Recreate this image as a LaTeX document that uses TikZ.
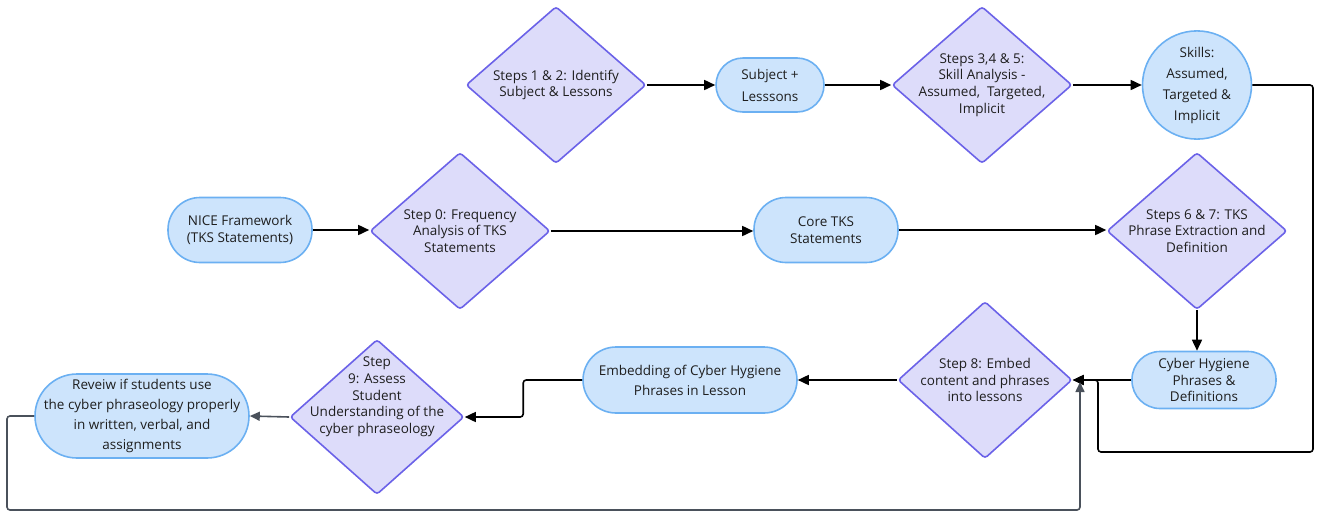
\documentclass[tikz,border=0pt]{standalone}
\usepackage{fontspec}
\setmainfont{Open Sans}
\usetikzlibrary{shapes.geometric,arrows.meta,calc}
\definecolor{dfill}{HTML}{DDDCFA}
\definecolor{ddraw}{HTML}{6B62E8}
\definecolor{bfill}{HTML}{CDE4FC}
\definecolor{bdraw}{HTML}{6BB0F2}
\definecolor{loopgray}{HTML}{4A515B}
\definecolor{txtc}{HTML}{1E1E1E}
\begin{document}
\begin{tikzpicture}[x=1pt,y=-1pt,
  dia/.style={diamond, draw=ddraw, fill=dfill, line width=1.6pt, inner sep=0pt, rounded corners=3pt},
  box/.style={draw=bdraw, fill=bfill, line width=1.6pt, inner sep=0pt, text=txtc, align=center},
  txt/.style={text=txtc, align=center, inner sep=0pt, font=\fontsize{13.5}{16.7}\selectfont},
  conn/.style={line width=1.6pt, -{Triangle[length=11pt,width=10pt]}},
  gconn/.style={line width=1.6pt, draw=loopgray, -{Triangle[length=10pt,width=9pt]}}
]
\useasboundingbox (0,0) rectangle (1318,512);

% top row
\node[dia, minimum width=180, minimum height=157,
  label={[txt]center:Steps 1 \& 2: Identify\\Subject \& Lessons}] (d12) at (556,85) {};
\node[box, minimum width=108, minimum height=54, rounded corners=27pt,
  font=\fontsize{13.5}{22}\selectfont] (subj) at (770,85) {Subject +\\Lesssons};
\node[dia, minimum width=180, minimum height=157,
  label={[txt]center:Steps 3,4 \& 5:\\Skill Analysis -\\Assumed,~ Targeted,\\Implicit}] (d345) at (982,85) {};
\node[box, ellipse, minimum width=109, minimum height=90,
  font=\fontsize{13.5}{21}\selectfont] (skills) at (1197,85) {Skills:\\Assumed,\\Targeted \&\\Implicit};

% middle row
\node[box, minimum width=144, minimum height=65, rounded corners=32pt,
  font=\fontsize{13.5}{16.7}\selectfont] (nice) at (240,230) {NICE Framework\\(TKS Statements)};
\node[dia, minimum width=180, minimum height=157,
  label={[txt]center:Step 0: Frequency\\Analysis of TKS\\Statements}] (d0) at (460,231) {};
\node[box, minimum width=144, minimum height=65, rounded corners=32pt,
  font=\fontsize{13.5}{16.7}\selectfont] (core) at (826,230) {Core TKS\\Statements};
\node[dia, minimum width=180, minimum height=157,
  label={[txt]center:Steps 6 \& 7: TKS\\Phrase Extraction and\\Definition}] (d67) at (1197,231) {};

% bottom row
\node[box, minimum width=144, minimum height=57, rounded corners=28pt,
  font=\fontsize{13.5}{16.7}\selectfont] (cyber) at (1204,380) {Cyber Hygiene\\Phrases \&\\Definitions};
\node[dia, minimum width=174, minimum height=157,
  label={[txt]center:Step 8: Embed\\content and phrases\\into lessons}] (d8) at (985,380) {};
\node[box, minimum width=214, minimum height=66, rounded corners=33pt,
  font=\fontsize{13.5}{20}\selectfont] (embed) at (690,380) {Embedding of Cyber Hygiene\\Phrases in Lesson};
\node[dia, minimum width=174, minimum height=155,
  label={[txt,yshift=20pt]center:Step\\9: Assess\\Student\\Understanding of the\\cyber phraseology}] (d9) at (377,417) {};
\node[box, minimum width=214, minimum height=84, rounded corners=42pt,
  font=\fontsize{13.5}{20}\selectfont] (review) at (142,416) {Reveiw if students use\\the cyber phraseology properly\\in written, verbal, and\\assignments};

% helper coordinates
\coordinate (rt) at (1313,452);
\coordinate (lp) at (1098,452);
\coordinate (lb) at (7,510);
\coordinate (g8) at (1080,382);

% connectors
\draw[conn] (d12.east) -- (subj.west);
\draw[conn] (subj.east) -- (d345.west);
\draw[conn] (d345.east) -- (skills.west);
\draw[conn] (nice.east) -- (nice.east -| d0.west);
\draw[conn] (d0.east) -- (d0.east -| core.west);
\draw[conn] (core.east) -- (core.east -| d67.west);
\draw[conn] (d67.south) -- (d67.south |- cyber.north);
\draw[conn] (cyber.west) -- (d8.east);
\draw[conn, rounded corners=3pt] (skills.east) -| (rt) -- (lp) -- (lp |- d8.east) -- (d8.east);
\draw[conn] (d8.west) -- (embed.east);
\draw[conn, rounded corners=3pt] (embed.west) -- ++(-59,0) |- (d9.east);
\draw[gconn] (d9.west) -- (review.east);
\draw[gconn, rounded corners=3pt] (review.west) -| (lb) -| (g8);
\end{tikzpicture}
\end{document}
